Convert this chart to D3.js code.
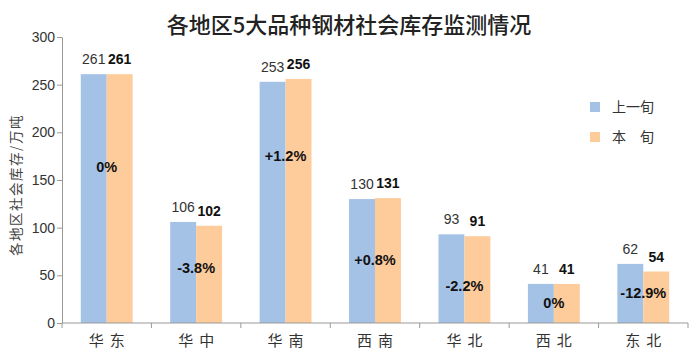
<!DOCTYPE html>
<html>
<head>
<meta charset="utf-8">
<script src="https://cdn.jsdelivr.net/npm/d3@7"></script>
<style>
  body { margin: 0; background: #fff; }
  svg { display: block; font-family: "Liberation Sans", Arial, sans-serif; }
</style>
</head>
<body>
<div id="chart"></div>
<script>
// regions and values (万吨)
const regions = ["华东", "华中", "华南", "西南", "华北", "西北", "东北"];
const lastPeriod = [261, 106, 253, 130, 93, 41, 62];
const thisPeriod = [261, 102, 256, 131, 91, 41, 54];
const changeLabels = ["0%", "-3.8%", "+1.2%", "+0.8%", "-2.2%", "0%", "-12.9%"];
// where the change label sits, in axis units
const changeAt = [164, 58, 175, 66, 39, 21, 31];
const yTicks = [0, 50, 100, 150, 200, 250, 300];

const width = 689;
const height = 354;
const margin = { top: 37, right: 1, bottom: 31, left: 62 };

const blue = "#a4c1e6";
const orange = "#fecb9a";

const svg = d3.select("#chart")
  .append("svg")
  .attr("width", width)
  .attr("height", height);

const x = d3.scaleBand()
  .domain(regions)
  .range([margin.left, width - margin.right])
  .paddingInner(0.42)
  .paddingOuter(0.21);

const x1 = d3.scaleBand()
  .domain(["last", "this"])
  .range([0, x.bandwidth()]);

const y = d3.scaleLinear()
  .domain([0, 300])
  .range([height - margin.bottom, margin.top]);

// title
svg.append("text")
  .attr("x", 349)
  .attr("y", 33)
  .attr("text-anchor", "middle")
  .style("font-family", "'Noto Sans CJK SC', sans-serif")
  .style("font-size", "22px")
  .style("font-weight", "500")
  .style("fill", "#222")
  .text("各地区5大品种钢材社会库存监测情况");

// bars
const groups = svg.append("g")
  .selectAll("g")
  .data(regions)
  .enter()
  .append("g")
  .attr("transform", d => `translate(${x(d)},0)`);

groups.append("rect")
  .attr("x", x1("last"))
  .attr("y", (d, i) => y(lastPeriod[i]))
  .attr("width", x1.bandwidth())
  .attr("height", (d, i) => y(0) - y(lastPeriod[i]))
  .attr("fill", blue);

groups.append("rect")
  .attr("x", x1("this"))
  .attr("y", (d, i) => y(thisPeriod[i]))
  .attr("width", x1.bandwidth())
  .attr("height", (d, i) => y(0) - y(thisPeriod[i]))
  .attr("fill", orange);

// value labels
groups.append("text")
  .attr("x", x1("last") + x1.bandwidth() / 2)
  .attr("y", (d, i) => y(lastPeriod[i]) - 10)
  .attr("text-anchor", "middle")
  .style("font-size", "14px")
  .style("fill", "#333")
  .text((d, i) => lastPeriod[i]);

groups.append("text")
  .attr("x", x1("this") + x1.bandwidth() / 2)
  .attr("y", (d, i) => y(thisPeriod[i]) - 10)
  .attr("text-anchor", "middle")
  .style("font-size", "14px")
  .style("font-weight", "bold")
  .style("fill", "#111")
  .text((d, i) => thisPeriod[i]);

groups.append("text")
  .attr("x", x.bandwidth() / 2)
  .attr("y", (d, i) => y(changeAt[i]) + 5)
  .attr("text-anchor", "middle")
  .style("font-size", "14.5px")
  .style("font-weight", "bold")
  .style("fill", "#111")
  .text((d, i) => changeLabels[i]);

// y axis
const yAxis = svg.append("g")
  .attr("transform", `translate(${margin.left},0)`)
  .call(d3.axisLeft(y).tickValues(yTicks).tickSize(5).tickSizeOuter(0));
yAxis.select(".domain").attr("stroke", "#999");
yAxis.selectAll(".tick line").attr("stroke", "#999");
yAxis.selectAll(".tick text")
  .attr("x", -7)
  .style("font-size", "14px")
  .style("fill", "#333")
  .style("font-family", "'Liberation Sans', Arial, sans-serif");

// x axis with ticks between categories
const xAxisG = svg.append("g")
  .attr("transform", `translate(0,${y(0)})`);
xAxisG.append("line")
  .attr("x1", margin.left)
  .attr("x2", width - margin.right)
  .attr("stroke", "#999");
const boundaries = d3.range(regions.length + 1)
  .map(i => margin.left + i * x.step());
xAxisG.selectAll(".bt")
  .data(boundaries)
  .enter()
  .append("line")
  .attr("x1", d => d)
  .attr("x2", d => d)
  .attr("y1", 0)
  .attr("y2", 5)
  .attr("stroke", "#999");
xAxisG.selectAll(".xl")
  .data(regions)
  .enter()
  .append("text")
  .attr("x", d => x(d) + x.bandwidth() / 2 + 3)
  .attr("y", 23)
  .attr("text-anchor", "middle")
  .style("font-family", "'Noto Sans CJK SC', sans-serif")
  .style("font-size", "15px")
  .style("letter-spacing", "6px")
  .style("fill", "#333")
  .text(d => d);

// y axis title
svg.append("text")
  .attr("transform", `translate(21,${(margin.top + y(0)) / 2 + 5}) rotate(-90)`)
  .attr("text-anchor", "middle")
  .style("font-family", "'Noto Sans CJK SC', sans-serif")
  .style("font-size", "13.5px")
  .style("letter-spacing", "1.5px")
  .style("fill", "#444")
  .text("各地区社会库存/万吨");

// legend
const legendItems = [
  { label: "上一旬", color: blue },
  { label: "本\u3000旬", color: orange }
];
const legend = svg.append("g")
  .attr("transform", "translate(590,107)");
legendItems.forEach((item, i) => {
  legend.append("rect")
    .attr("x", 0)
    .attr("y", i * 30 - 5)
    .attr("width", 10)
    .attr("height", 10)
    .attr("fill", item.color);
  legend.append("text")
    .attr("x", 22)
    .attr("y", i * 30 + 5)
    .style("font-family", "'Noto Sans CJK SC', sans-serif")
    .style("font-size", "14px")
    .style("fill", "#333")
    .text(item.label);
});
</script>
</body>
</html>
